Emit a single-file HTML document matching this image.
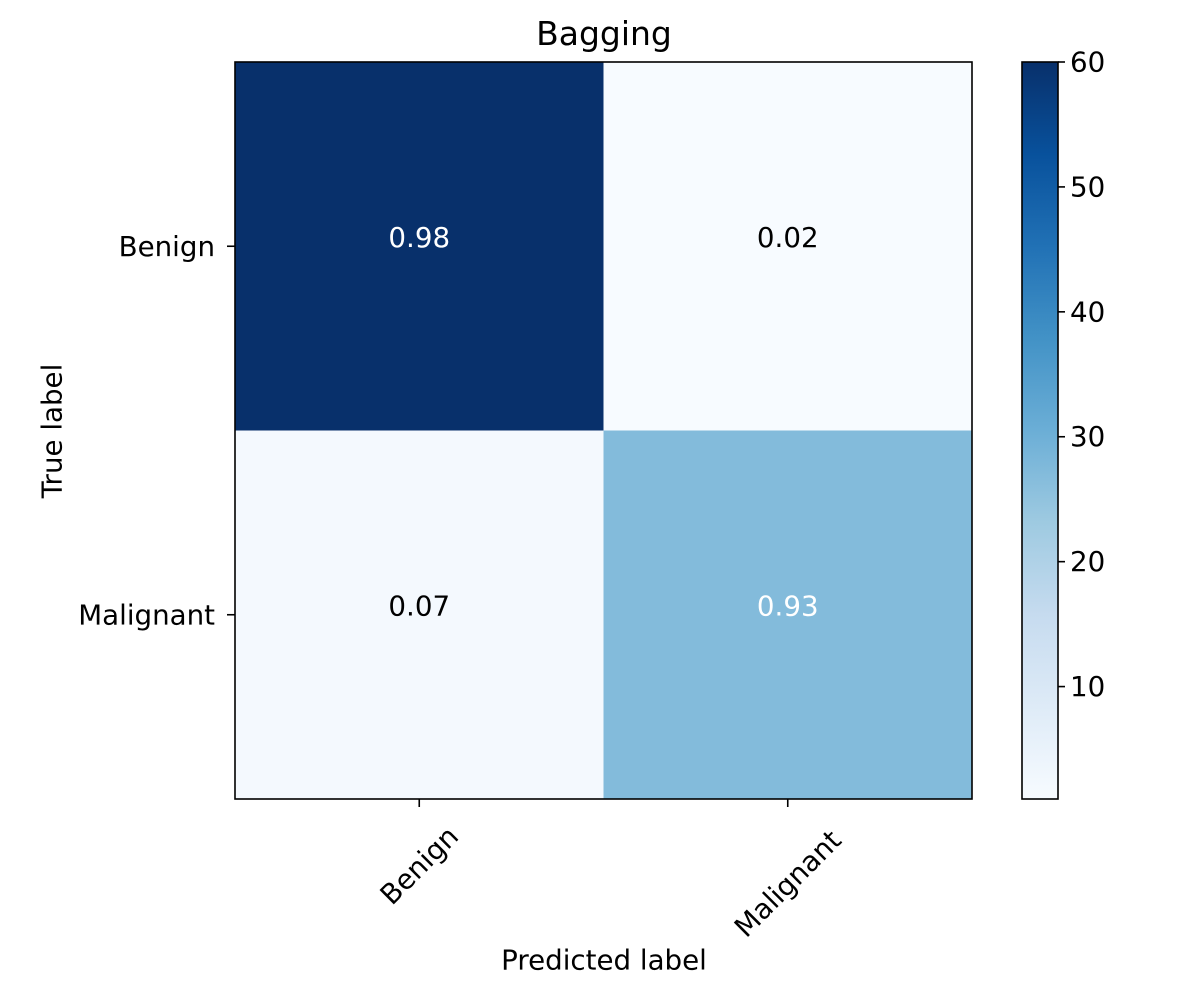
<!DOCTYPE html>
<html><head><meta charset="utf-8"><style>
html,body{margin:0;padding:0;background:#fff;}
svg text{font-family:"DejaVu Sans","Liberation Sans",sans-serif;fill:#000;}
</style></head><body>
<svg id="chart" width="1200" height="1000" xmlns="http://www.w3.org/2000/svg">
<rect width="1200" height="1000" fill="#fff"/>
<text x="604" y="45" font-size="33" text-anchor="middle">Bagging</text>
<g id="cells"></g>
<rect x="235" y="62" width="737" height="737" fill="none" stroke="#000" stroke-width="1.6"/>
<g id="axes"></g>
<defs><linearGradient id="cbgrad" x1="0" y1="1" x2="0" y2="0">
<stop offset="0" stop-color="#f7fbff"/><stop offset="0.125" stop-color="#deebf7"/><stop offset="0.25" stop-color="#c6dbef"/><stop offset="0.375" stop-color="#9ecae1"/><stop offset="0.5" stop-color="#6baed6"/><stop offset="0.625" stop-color="#4292c6"/><stop offset="0.75" stop-color="#2171b5"/><stop offset="0.875" stop-color="#08519c"/><stop offset="1" stop-color="#08306b"/>
</linearGradient></defs>
<rect x="1022" y="62" width="36" height="737" fill="url(#cbgrad)" stroke="#000" stroke-width="1.6"/>
<g id="cbticks"></g>
<text transform="translate(52,431) rotate(-90)" font-size="27.7" text-anchor="middle" dominant-baseline="central">True label</text>
<text x="604" y="960" font-size="27.7" text-anchor="middle" dominant-baseline="central">Predicted label</text>
</svg>
<script>
const categories = ["Benign", "Malignant"];
const counts = [[60, 1], [2, 27]];
const normalized = [[0.98, 0.02], [0.07, 0.93]];
const cbTicks = [10, 20, 30, 40, 50, 60];
const vmin = 1, vmax = 60;

const NS = "http://www.w3.org/2000/svg";
const px0 = 235, py0 = 62, size = 737, cbx = 1022, cbw = 36, FS = 27.7;
const stops = ["#f7fbff","#deebf7","#c6dbef","#9ecae1","#6baed6","#4292c6","#2171b5","#08519c","#08306b"];
function hex(h){return [1,3,5].map(i=>parseInt(h.substr(i,2),16));}
function blues(t){t=Math.max(0,Math.min(1,t));const f=t*8,i=Math.min(7,Math.floor(f)),r=f-i;const a=hex(stops[i]),b=hex(stops[i+1]);return "rgb("+a.map((v,k)=>Math.round(v+(b[k]-v)*r)).join(",")+")";}
const n = categories.length, cell = size / n;
const xPos = j => px0 + cell * (j + 0.5);
const yPos = i => py0 + cell * (i + 0.5);
const cbY = v => py0 + size - (v - vmin) / (vmax - vmin) * size;
function mk(tag, attrs, parent){const e=document.createElementNS(NS,tag);for(const k in attrs)e.setAttribute(k,attrs[k]);parent.appendChild(e);return e;}
const cellsG = document.getElementById("cells"), axesG = document.getElementById("axes"), cbG = document.getElementById("cbticks");
const nmax = Math.max(...normalized.flat());
for (let i = 0; i < n; i++) for (let j = 0; j < n; j++) {
  const r = mk("rect",{x:px0+cell*j,y:py0+cell*i,width:cell+0.5,height:cell+0.5,fill:blues((counts[i][j]-vmin)/(vmax-vmin))},cellsG);
  
  
  const t = mk("text",{x:xPos(j),y:yPos(i)-9,"font-size":FS,"text-anchor":"middle","dominant-baseline":"central"},cellsG);
  t.style.fill = normalized[i][j] > nmax/2 ? "#fff" : "#000";
  t.textContent = normalized[i][j].toFixed(2);
  
  
}
categories.forEach((c, k) => {
  mk("line",{x1:xPos(k),x2:xPos(k),y1:py0+size,y2:py0+size+8,stroke:"#000","stroke-width":1.6},axesG);
  const half = c.length * FS * 0.62 * 0.707 / 2;
  const xl = mk("text",{transform:`translate(${xPos(k)},${py0+size+30+half}) rotate(-45)`,"font-size":FS,"text-anchor":"middle","dominant-baseline":"central"},axesG);
  xl.textContent = c;
  
  
  mk("line",{x1:px0-8,x2:px0,y1:yPos(k),y2:yPos(k),stroke:"#000","stroke-width":1.6},axesG);
  const yl = mk("text",{x:px0-20,y:yPos(k),"font-size":FS,"text-anchor":"end","dominant-baseline":"central"},axesG);
  yl.textContent = c;
  
  
});
cbTicks.forEach(v => {
  mk("line",{x1:cbx+cbw,x2:cbx+cbw+7,y1:cbY(v),y2:cbY(v),stroke:"#000","stroke-width":1.6},cbG);
  const t = mk("text",{x:cbx+cbw+12,y:cbY(v),"font-size":FS,"dominant-baseline":"central"},cbG);
  t.textContent = v;
  
  
});
</script>
</body></html>
